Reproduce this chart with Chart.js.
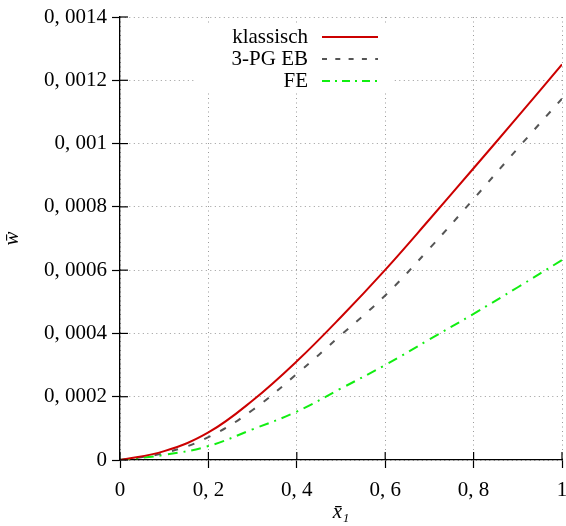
<!DOCTYPE html>
<html><head><meta charset="utf-8">
<script src="https://cdn.jsdelivr.net/npm/chart.js@4/dist/chart.umd.min.js"></script>
<style>html,body{margin:0;padding:0;background:#fff}</style>
</head><body>
<canvas id="c" width="566" height="526"></canvas>
<script>
const xValues = [0, 0.1, 0.2, 0.3, 0.4, 0.5, 0.6, 0.7, 0.8, 0.9, 1.0];
const klassischValues = [0, 0.000028, 0.000087, 0.000188, 0.000312, 0.000452, 0.000601, 0.000760, 0.000922, 0.001085, 0.001250];
const ebValues = [0, 0.000022, 0.000072, 0.000158, 0.000272, 0.000395, 0.000520, 0.000668, 0.000825, 0.000985, 0.001142];
const feValues = [0, 0.000016, 0.000044, 0.000097, 0.000153, 0.000226, 0.000300, 0.000381, 0.000462, 0.000546, 0.000632];
const seriesLabels = ['klassisch', '3-PG EB', 'FE'];
const xTickLabels = ['0', '0, 2', '0, 4', '0, 6', '0, 8', '1'];
const yTickLabels = ['0', '0, 0002', '0, 0004', '0, 0006', '0, 0008', '0, 001', '0, 0012', '0, 0014'];
const xTitle = 'x\u0304\u2081';
const yTitle = 'w\u0304';

const FONT = '"Liberation Serif", "DejaVu Serif", serif';

function pts(vals) { return xValues.map((x, i) => ({x: x, y: vals[i]})); }

const innerTicks = {
  id: 'innerTicks',
  afterDraw(chart) {
    const {ctx, chartArea: a, scales} = chart;
    ctx.save();
    ctx.strokeStyle = '#000';
    ctx.lineWidth = 1.2;
    ctx.setLineDash([]);
    scales.x.ticks.forEach(t => {
      const px = scales.x.getPixelForValue(t.value);
      ctx.beginPath(); ctx.moveTo(px, a.bottom); ctx.lineTo(px, a.bottom - 8); ctx.stroke();
    });
    scales.y.ticks.forEach(t => {
      const py = scales.y.getPixelForValue(t.value);
      ctx.beginPath(); ctx.moveTo(a.left, py); ctx.lineTo(a.left + 8, py); ctx.stroke();
    });
    ctx.restore();
  }
};

const innerLegend = {
  id: 'innerLegend',
  afterDatasetsDraw(chart) {
    const {ctx, chartArea: a} = chart;
    ctx.save();
    ctx.fillStyle = '#fff';
    ctx.fillRect(a.left + 76, a.top + 9, 196, 67);
    ctx.font = '21px ' + FONT;
    ctx.textAlign = 'right';
    ctx.textBaseline = 'alphabetic';
    chart.data.datasets.forEach((ds, i) => {
      const yb = a.top + 25.5 + i * 22;
      ctx.fillStyle = '#000';
      ctx.fillText(ds.label, a.left + 188, yb);
      const yl = yb - 5.5;
      ctx.strokeStyle = ds.borderColor;
      ctx.lineWidth = ds.borderWidth;
      ctx.setLineDash(ds.legendDash || []);
      ctx.beginPath(); ctx.moveTo(a.left + 202, yl); ctx.lineTo(a.left + 258, yl); ctx.stroke();
    });
    ctx.restore();
  }
};

new Chart(document.getElementById('c'), {
  type: 'line',
  data: {
    datasets: [
      { label: seriesLabels[0], data: pts(klassischValues), borderColor: '#cc0000', borderWidth: 2, pointRadius: 0, tension: 0.4, fill: false, legendDash: [] },
      { label: seriesLabels[1], data: pts(ebValues), borderColor: '#555555', borderWidth: 2, borderDash: [6.5, 11], pointRadius: 0, tension: 0.4, fill: false, legendDash: [5, 8.3] },
      { label: seriesLabels[2], data: pts(feValues), borderColor: '#11ee11', borderWidth: 2, borderDash: [10, 6, 2, 6], pointRadius: 0, tension: 0.4, fill: false, legendDash: [8, 5, 2, 5] }
    ]
  },
  options: {
    responsive: false,
    devicePixelRatio: 1,
    animation: false,
    layout: { padding: { left: 0, top: 17, right: 4, bottom: 0 }, autoPadding: false },
    plugins: { legend: { display: false }, tooltip: { enabled: false } },
    scales: {
      x: {
        type: 'linear', min: 0, max: 1,
        afterFit(s) { s.height = 66; s.paddingLeft = 0; s.paddingRight = 0; },
        ticks: { stepSize: 0.2, color: '#000', padding: 10, maxRotation: 0, font: { family: FONT, size: 21 },
          callback: (v, i) => xTickLabels[i] },
        grid: { color: '#9a9a9a', lineWidth: 1, drawTicks: true, tickLength: 8, tickColor: '#000', tickWidth: 1.2, tickBorderDash: [] },
        border: { display: true, color: '#000', width: 1.3, dash: [1, 3.5] },
        title: { display: true, text: xTitle, color: '#000', font: { family: FONT, size: 21, style: 'italic' }, padding: { top: 0, bottom: 1 } }
      },
      y: {
        type: 'linear', min: 0, max: 0.0014,
        afterFit(s) { s.width = 120; s.paddingTop = 0; s.paddingBottom = 0; },
        ticks: { stepSize: 0.0002, color: '#000', padding: 5, font: { family: FONT, size: 21 },
          callback: (v, i) => yTickLabels[i] },
        grid: { color: '#9a9a9a', lineWidth: 1, drawTicks: true, tickLength: 8, tickColor: '#000', tickWidth: 1.2, tickBorderDash: [] },
        border: { display: true, color: '#000', width: 1.3, dash: [1, 3.5] },
        title: { display: true, text: yTitle, color: '#000', font: { family: FONT, size: 21, style: 'italic' }, padding: { top: 0, bottom: 0 } }
      }
    }
  },
  plugins: [innerTicks, innerLegend]
});
</script>
</body></html>
